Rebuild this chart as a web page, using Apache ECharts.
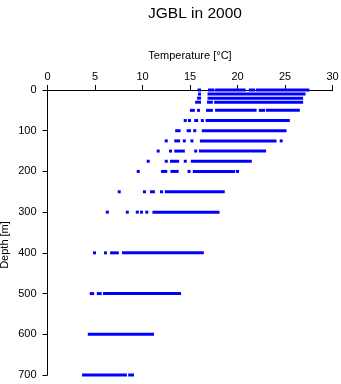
<!DOCTYPE html>
<html>
<head>
<meta charset="utf-8">
<script src="https://cdn.jsdelivr.net/npm/echarts@6/dist/echarts.min.js"></script>
<style>
html,body{margin:0;padding:0;background:#fff;}
#chart{width:341px;height:384px;}
</style>
</head>
<body>
<div id="chart"></div>
<script>
// Depth levels [m]
const depths = [0, 10, 20, 30, 50, 75, 100, 125, 150, 175, 200, 250, 300, 400, 500, 600, 700];
// Observed temperature ranges [°C] at each depth (runs of dense observations; single values as [t,t])
const temps0   = [[15.95,16.0],[17.05,17.4],[17.8,20.7],[21.35,21.7],[22.1,27.4]];
const temps10  = [[16.0,16.0],[17.0,27.0]];
const temps20  = [[15.9,16.0],[17.0,26.75]];
const temps30  = [[15.7,16.0],[16.95,17.25],[17.7,26.75]];
const temps50  = [[15.15,15.35],[15.9,15.9],[16.85,17.25],[17.8,21.85],[22.4,22.75],[23.15,26.4]];
const temps75  = [[14.5,14.5],[14.95,14.95],[15.6,15.7],[16.3,16.3],[16.8,25.35]];
const temps100 = [[13.6,13.85],[14.8,14.95],[15.5,15.5],[16.4,25.0]];
const temps125 = [[12.5,12.5],[13.5,13.8],[14.4,14.4],[15.2,15.2],[16.2,23.95],[24.6,24.6]];
const temps150 = [[11.65,11.65],[12.95,12.95],[13.5,14.3],[15.6,15.6],[16.1,22.85]];
const temps175 = [[10.6,10.6],[12.5,12.5],[13.05,13.7],[14.5,14.5],[15.25,21.35]];
const temps200 = [[9.55,9.55],[12.1,12.45],[13.1,13.65],[14.9,14.9],[15.45,19.6],[20.0,20.0]];
const temps250 = [[7.55,7.55],[10.2,10.2],[10.95,11.15],[12.0,12.0],[12.5,18.5]];
const temps300 = [[6.3,6.3],[8.4,8.4],[9.45,9.45],[9.9,9.9],[10.45,10.45],[11.2,17.95]];
const temps400 = [[4.95,4.95],[6.1,6.1],[6.75,7.35],[8.0,16.3]];
const temps500 = [[4.6,4.75],[5.35,5.55],[6.0,13.9]];
const temps600 = [[4.4,11.05]];
const temps700 = [[3.8,8.2],[8.65,8.95]];
const tempsByDepth = [temps0,temps10,temps20,temps30,temps50,temps75,temps100,temps125,temps150,temps175,temps200,temps250,temps300,temps400,temps500,temps600,temps700];

const xTicks = [0, 5, 10, 15, 20, 25, 30];
const yTicks = [0, 100, 200, 300, 400, 500, 600, 700];

const data = [];
depths.forEach((d, i) => {
  tempsByDepth[i].forEach(r => data.push([r[0], r[1], d]));
});

const FONT = '"Liberation Sans", Arial, sans-serif';
const chart = echarts.init(document.getElementById('chart'), null, {renderer: 'canvas'});
chart.setOption({
  animation: false,
  backgroundColor: '#ffffff',
  title: {
    text: 'JGBL in 2000',
    left: 190, top: 1, textAlign: 'center',
    textStyle: {fontFamily: FONT, fontSize: 15.5, fontWeight: 'normal', color: '#000'}
  },
  grid: {left: 47.5, right: 8.5, top: 90, bottom: 9, containLabel: false, outerBoundsMode: 'none'},
  xAxis: {
    type: 'value', position: 'top',
    min: xTicks[0], max: xTicks[xTicks.length - 1], interval: 5,
    name: 'Temperature [°C]', nameLocation: 'middle', nameGap: 29, nameMoveOverlap: false,
    nameTextStyle: {fontFamily: FONT, fontSize: 11, color: '#000'},
    axisLine: {show: true, lineStyle: {color: '#000', width: 1}},
    axisTick: {show: true, inside: false, length: 5, lineStyle: {color: '#000'}},
    axisLabel: {fontFamily: FONT, fontSize: 11, color: '#000', margin: 8},
    splitLine: {show: false}
  },
  yAxis: {
    type: 'value', inverse: true,
    min: yTicks[0], max: yTicks[yTicks.length - 1], interval: 100,
    name: 'Depth [m]', nameLocation: 'middle', nameGap: 37, nameRotate: 90, nameMoveOverlap: false,
    nameTextStyle: {fontFamily: FONT, fontSize: 11, color: '#000', padding: [0, 25, 0, 0]},
    axisLine: {show: true, lineStyle: {color: '#000', width: 1}},
    axisTick: {show: true, inside: false, length: 5, lineStyle: {color: '#000'}},
    axisLabel: {fontFamily: FONT, fontSize: 11, color: '#000', margin: 11},
    splitLine: {show: false}
  },
  series: [{
    type: 'custom',
    coordinateSystem: 'cartesian2d',
    encode: {x: [0, 1], y: 2},
    data: data,
    renderItem: function (params, api) {
      const p0 = api.coord([api.value(0), api.value(2)]);
      const p1 = api.coord([api.value(1), api.value(2)]);
      return {
        type: 'rect',
        shape: {x: p0[0] - 1.5, y: p0[1] - 1.5, width: p1[0] - p0[0] + 3, height: 3},
        style: {fill: '#0000ff'}
      };
    }
  }]
});
</script>
</body>
</html>
